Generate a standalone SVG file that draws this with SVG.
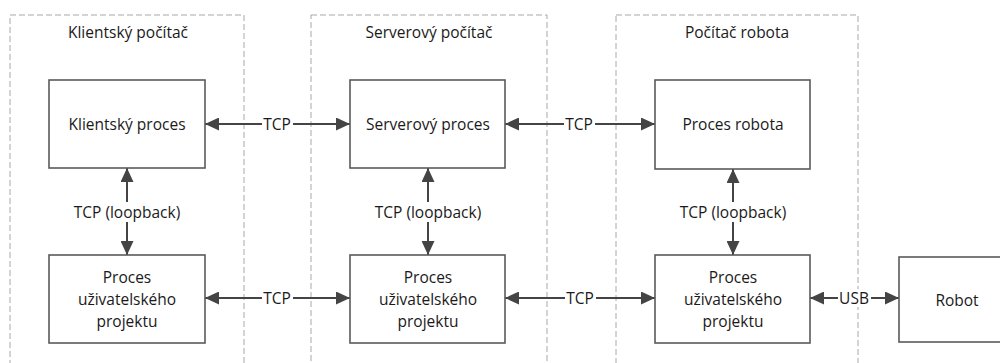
<svg xmlns="http://www.w3.org/2000/svg" width="1000" height="363" viewBox="0 0 1000 363">
  <defs>
    <marker id="arrow" viewBox="0 0 14 13" refX="14" refY="6.5" markerUnits="userSpaceOnUse" markerWidth="14" markerHeight="13" orient="auto-start-reverse">
      <path d="M0,0 L14,6.5 L0,13 z" fill="#444"/>
    </marker>
  </defs>
  <style>
    .zone { fill: none; stroke: #a8a8a8; stroke-width: 1; stroke-dasharray: 6 3; }
    .box { fill: #fff; stroke: #5a5a5a; stroke-width: 1.6; }
    .lbl { font-family: "Open Sans", "Liberation Sans", sans-serif; font-size: 15.5px; fill: #1a1a1a; text-anchor: middle; dominant-baseline: central; }
    .link { fill: none; stroke: #444; stroke-width: 2; marker-start: url(#arrow); marker-end: url(#arrow); }
    .bg { fill: #fff; }
  </style>
  <rect width="1000" height="363" fill="#fff"/>

  <!-- machine zones -->
  <g id="zone-client">
    <rect class="zone" x="10" y="15" width="234" height="360"/>
    <text class="lbl" x="128" y="32">Klientský počítač</text>
  </g>
  <g id="zone-server">
    <rect class="zone" x="311" y="15" width="236" height="360"/>
    <text class="lbl" x="429" y="32">Serverový počítač</text>
  </g>
  <g id="zone-robot">
    <rect class="zone" x="616" y="15" width="242" height="360"/>
    <text class="lbl" x="737" y="32">Počítač robota</text>
  </g>

  <!-- connectors -->
  <g id="connectors">
    <path class="link" d="M205,124 H350"/>
    <path class="link" d="M505,124 H655"/>
    <path class="link" d="M205,298 H350"/>
    <path class="link" d="M505,298 H655"/>
    <path class="link" d="M810,298 H899"/>
    <path class="link" d="M127,168 V255"/>
    <path class="link" d="M428,168 V255"/>
    <path class="link" d="M733,169 V255"/>

    <rect class="bg" x="262" y="115" width="31" height="18"/>
    <text class="lbl" x="277" y="124">TCP</text>
    <rect class="bg" x="564" y="115" width="31" height="18"/>
    <text class="lbl" x="579" y="124">TCP</text>
    <rect class="bg" x="262" y="289" width="31" height="18"/>
    <text class="lbl" x="277" y="298">TCP</text>
    <rect class="bg" x="565" y="289" width="31" height="18"/>
    <text class="lbl" x="580" y="298">TCP</text>
    <rect class="bg" x="838" y="289" width="33" height="18"/>
    <text class="lbl" x="854" y="298">USB</text>

    <rect class="bg" x="72" y="202" width="110" height="20"/>
    <text class="lbl" x="127" y="212">TCP (loopback)</text>
    <rect class="bg" x="373" y="202" width="110" height="20"/>
    <text class="lbl" x="428" y="212">TCP (loopback)</text>
    <rect class="bg" x="678" y="202" width="110" height="20"/>
    <text class="lbl" x="733" y="212">TCP (loopback)</text>
  </g>

  <!-- process nodes -->
  <g id="client-process">
    <rect class="box" x="49" y="80" width="156" height="88"/>
    <text class="lbl" x="127" y="124">Klientský proces</text>
  </g>
  <g id="server-process">
    <rect class="box" x="350" y="80" width="155" height="88"/>
    <text class="lbl" x="428" y="124">Serverový proces</text>
  </g>
  <g id="robot-process">
    <rect class="box" x="655" y="80" width="155" height="89"/>
    <text class="lbl" x="733" y="124">Proces robota</text>
  </g>
  <g id="client-project">
    <rect class="box" x="49" y="255" width="156" height="88"/>
    <text class="lbl" x="127" y="277">Proces</text>
    <text class="lbl" x="127" y="299">uživatelského</text>
    <text class="lbl" x="127" y="321">projektu</text>
  </g>
  <g id="server-project">
    <rect class="box" x="350" y="255" width="155" height="88"/>
    <text class="lbl" x="428" y="277">Proces</text>
    <text class="lbl" x="428" y="299">uživatelského</text>
    <text class="lbl" x="428" y="321">projektu</text>
  </g>
  <g id="robot-project">
    <rect class="box" x="655" y="255" width="155" height="88"/>
    <text class="lbl" x="733" y="277">Proces</text>
    <text class="lbl" x="733" y="299">uživatelského</text>
    <text class="lbl" x="733" y="321">projektu</text>
  </g>
  <g id="robot">
    <rect class="box" x="899" y="257" width="120" height="85"/>
    <text class="lbl" x="957" y="300">Robot</text>
  </g>
</svg>
